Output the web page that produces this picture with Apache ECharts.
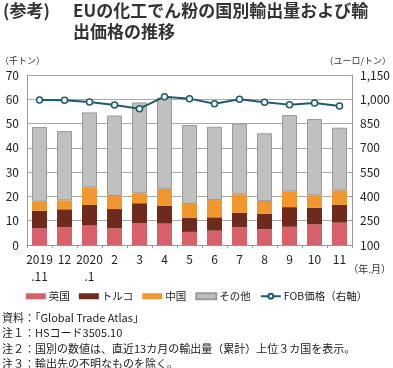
<!DOCTYPE html>
<html><head><meta charset="utf-8">
<script src="https://cdn.jsdelivr.net/npm/echarts@6/dist/echarts.min.js"></script>
<style>html,body{margin:0;padding:0;background:#fff}#c{width:393px;height:368px}</style>
</head><body><div id="c"></div>
<script>
const categories = ['2019\n.11','12','2020\n.1','2','3','4','5','6','7','8','9','10','11'];
const uk     = [6.9, 7.3, 8.0, 6.9, 8.9, 8.8, 5.4, 5.9, 7.3, 6.5, 7.5, 8.5, 9.2];
const turkey = [7.2, 7.4, 8.5, 7.9, 8.3, 7.3, 5.7, 5.5, 6.0, 6.4, 8.1, 6.9, 7.3];
const china  = [3.7, 3.7, 7.2, 5.4, 4.1, 7.1, 5.8, 7.1, 7.6, 5.2, 6.5, 5.1, 6.0];
const other  = [30.8, 28.5, 30.9, 33.1, 37.4, 37.5, 32.5, 30.2, 29.1, 27.9, 31.4, 31.4, 25.8];
const fob    = [996, 994, 983, 965, 942, 1016, 1004, 973, 1000, 981, 967, 977, 959];
const leftTicks = [0, 70, 10];
const rightTicks = [100, 1150, 150];

const FONT = '"Noto Sans CJK JP", "Noto Sans", sans-serif';
const chart = echarts.init(document.getElementById('c'));
const barBase = {type:'bar', stack:'a', barWidth:'60%', yAxisIndex:0};
chart.setOption({
  animation:false,
  textStyle:{fontFamily:FONT},
  graphic:[
    {type:'text', left:3, top:2, style:{text:'(参考)', font:'bold 17px '+FONT, fill:'#333'}},
    {type:'text', left:73, top:2, style:{text:'EUの化工でん粉の国別輸出量および輸', font:'bold 17px '+FONT, fill:'#333'}},
    {type:'text', left:73, top:23, style:{text:'出価格の推移', font:'bold 17px '+FONT, fill:'#333'}},
    {type:'text', left:0, top:56, style:{text:'（千トン）', font:'9px '+FONT, fill:'#333'}},
    {type:'text', right:2, top:56, style:{text:'（ユーロ/トン）', font:'9px '+FONT, fill:'#333'}},
    {type:'text', right:2, top:264, style:{text:'（年.月）', font:'10px '+FONT, fill:'#333'}},
    {type:'text', left:2, top:310, style:{text:'資料：「Global Trade Atlas」\n注１：HSコード3505.10\n注２：国別の数値は、直近13カ月の輸出量（累計）上位３カ国を表示。\n注３：輸出先の不明なものを除く。', font:'11px '+FONT, fill:'#222', lineHeight:15.5}}
  ],
  legend:{
    top:291, left:'center', itemWidth:20, itemHeight:6, itemGap:9, padding:0,
    textStyle:{fontSize:10.5, color:'#222', fontFamily:FONT, padding:[0,0,0,-2]},
    data:[{name:'英国',icon:'rect'},{name:'トルコ',icon:'rect'},{name:'中国',icon:'rect'},{name:'その他',icon:'rect'},'FOB価格（右軸）']
  },
  grid:{left:27, right:41, top:75, bottom:123},
  xAxis:{
    type:'category', data:categories,
    axisLine:{lineStyle:{color:'#999'}},
    axisTick:{show:true, lineStyle:{color:'#999'}, length:3},
    axisLabel:{color:'#222', fontSize:12, lineHeight:17, margin:6, interval:0}
  },
  yAxis:[
    {type:'value', min:leftTicks[0], max:leftTicks[1], interval:leftTicks[2],
     axisLine:{show:true, lineStyle:{color:'#999'}}, axisTick:{show:false},
     axisLabel:{color:'#222', fontSize:12, margin:8},
     splitLine:{lineStyle:{color:'#aaa'}}},
    {type:'value', min:rightTicks[0], max:rightTicks[1], interval:rightTicks[2],
     axisLine:{show:true, lineStyle:{color:'#999'}}, axisTick:{show:true, inside:true, length:3, lineStyle:{color:'#999'}},
     axisLabel:{color:'#222', fontSize:12, margin:8, formatter:v=>v.toLocaleString('en-US')},
     splitLine:{show:false}}
  ],
  series:[
    Object.assign({name:'英国', data:uk, itemStyle:{color:'#d9606a', decal:{symbol:'rect', symbolSize:0.3, dashArrayX:[1,2], dashArrayY:[2,2], color:'rgba(255,255,255,0.35)'}}}, barBase),
    Object.assign({name:'トルコ', data:turkey, itemStyle:{color:'#6e2b1d'}}, barBase),
    Object.assign({name:'中国', data:china, itemStyle:{color:'#f0972f'}}, barBase),
    Object.assign({name:'その他', data:other, itemStyle:{color:'#c0c0c0', borderColor:'#9a9a9a', borderWidth:1}}, barBase),
    {name:'FOB価格（右軸）', type:'line', yAxisIndex:1, data:fob,
     symbol:'circle', symbolSize:6, showAllSymbol:true,
     lineStyle:{color:'#1e5b6b', width:2},
     itemStyle:{color:'#fff', borderColor:'#1e5b6b', borderWidth:1.5}}
  ]
});
</script></body></html>
